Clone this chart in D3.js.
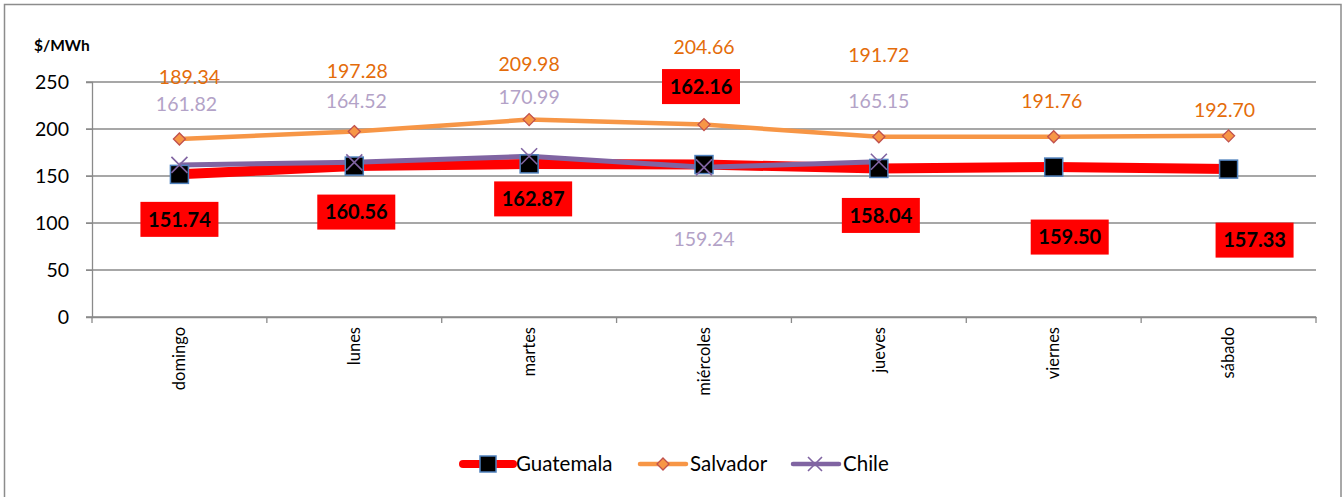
<!DOCTYPE html>
<html><head><meta charset="utf-8">
<script src="https://cdn.jsdelivr.net/npm/d3@7"></script>
<style>body{margin:0;background:#fff}svg{display:block;font-family:Lato,"Open Sans",sans-serif}</style>
</head><body><svg id="c" width="1343" height="497"></svg>
<script>
const categories = ["domingo","lunes","martes","miércoles","jueves","viernes","sábado"];
const guatemala = [151.74,160.56,162.87,162.16,158.04,159.50,157.33];
const salvador = [189.34,197.28,209.98,204.66,191.72,191.76,192.70];
const chile = [161.82,164.52,170.99,159.24,165.15,null,null];
const yTicks = [0,50,100,150,200,250];
const seriesNames = ["Guatemala","Salvador","Chile"];

// label placement (layout, px offsets from the point)
const gLab = [[0,45],[2,46],[4,35],[-3,-78],[2,47],[16,70],[26,71]];
const sLab = [[10,-62],[3,-61],[0,-56],[0,-78],[0,-82],[-2,-36],[-4,-26]];
const cLab = [[7,-61],[2,-61],[0,-59],[0,72],[0,-61],[0,0],[0,0]];

const svg = d3.select("#c");
svg.append("rect").attr("x",4.5).attr("y",4.5).attr("width",1336.5).attr("height",500)
  .attr("fill","none").attr("stroke","#8c8c8c").attr("stroke-width",1.5);

const L=92,R=1316,T=82,B=317;
const x = d3.scaleBand().domain(categories).range([L,R]);
const y = d3.scaleLinear().domain([0,250]).range([B,T]);
const cx = c => x(c)+x.bandwidth()/2;

// gridlines
svg.append("g").selectAll("line").data(yTicks).join("line")
  .attr("x1",L-6).attr("x2",R).attr("y1",d=>y(d)).attr("y2",d=>y(d))
  .attr("stroke","#8a8a8a").attr("stroke-width",1.3);

// y axis
const ya = svg.append("g").attr("transform",`translate(${L},0)`)
  .call(d3.axisLeft(y).tickValues(yTicks).tickSize(6).tickPadding(17));
ya.select(".domain").attr("stroke","#8a8a8a").attr("stroke-width",1.3);
ya.selectAll(".tick line").attr("stroke","#8a8a8a");
ya.selectAll("text").attr("font-size",19.5).attr("fill","#000").attr("font-family","Lato,sans-serif");

// x axis
const xa = svg.append("g").attr("transform",`translate(0,${B})`)
  .call(d3.axisBottom(x).tickSize(0).tickPadding(0));
xa.select(".domain").attr("stroke","#8a8a8a").attr("stroke-width",1.3);
xa.selectAll(".tick text").attr("font-size",16.5).attr("fill","#000")
  .attr("font-family","Lato,sans-serif")
  .attr("transform","translate(0,10) rotate(-90)")
  .attr("text-anchor","end").attr("dy","0.35em").attr("y",0).attr("x",0);
svg.append("g").selectAll("line").data(categories.concat([null])).join("line")
  .attr("x1",(d,i)=> i<categories.length? x(d): R).attr("x2",(d,i)=> i<categories.length? x(d): R)
  .attr("y1",B).attr("y2",B+6).attr("stroke","#8a8a8a").attr("stroke-width",1.3);

svg.append("text").attr("x",34).attr("y",51).attr("font-size",15.5).attr("font-weight","bold").text("$/MWh");

const line = d3.line().defined(d=>d.v!=null).x(d=>cx(d.c)).y(d=>y(d.v));
const mk = arr => categories.map((c,i)=>({c,v:arr[i],i}));

svg.append("path").datum(mk(guatemala)).attr("d",line).attr("fill","none")
  .attr("stroke","#ff0000").attr("stroke-width",10).attr("stroke-linejoin","round");
svg.append("path").datum(mk(salvador)).attr("d",line).attr("fill","none")
  .attr("stroke","#f79646").attr("stroke-width",4.5);
svg.append("path").datum(mk(chile)).attr("d",line).attr("fill","none")
  .attr("stroke","#8064a2").attr("stroke-width",5);

svg.append("g").selectAll("rect").data(mk(guatemala)).join("rect")
  .attr("x",d=>cx(d.c)-9).attr("y",d=>y(d.v)-9).attr("width",18).attr("height",18)
  .attr("fill","#000").attr("stroke","#4f81bd").attr("stroke-width",1.5);
svg.append("g").selectAll("path").data(mk(salvador)).join("path")
  .attr("transform",d=>`translate(${cx(d.c)},${y(d.v)})`)
  .attr("d","M0,-6L6,0L0,6L-6,0Z").attr("fill","#f79646").attr("stroke","#c0504d").attr("stroke-width",1.3);
svg.append("g").selectAll("path").data(mk(chile).filter(d=>d.v!=null)).join("path")
  .attr("transform",d=>`translate(${cx(d.c)},${y(d.v)})`)
  .attr("d","M-8,-8L8,8M8,-8L-8,8").attr("stroke","#8064a2").attr("stroke-width",1.6).attr("fill","none");

const fmt = d3.format(".2f");
const gl = svg.append("g").selectAll("g").data(mk(guatemala)).join("g")
  .attr("transform",d=>`translate(${cx(d.c)+gLab[d.i][0]},${y(d.v)+gLab[d.i][1]})`);
gl.append("rect").attr("x",-39).attr("y",-17.5).attr("width",78).attr("height",35).attr("fill","#ff0000");
gl.append("text").attr("text-anchor","middle").attr("dy","0.36em").attr("font-size",20)
  .attr("font-weight","bold").attr("fill","#000").text(d=>fmt(d.v));
svg.append("g").selectAll("text").data(mk(salvador)).join("text")
  .attr("x",d=>cx(d.c)+sLab[d.i][0]).attr("y",d=>y(d.v)+sLab[d.i][1]).attr("dy","0.36em")
  .attr("text-anchor","middle").attr("font-size",19.5).attr("fill","#e46c0a").text(d=>fmt(d.v));
svg.append("g").selectAll("text").data(mk(chile).filter(d=>d.v!=null)).join("text")
  .attr("x",d=>cx(d.c)+cLab[d.i][0]).attr("y",d=>y(d.v)+cLab[d.i][1]).attr("dy","0.36em")
  .attr("text-anchor","middle").attr("font-size",19.5).attr("fill","#b3a2c7").text(d=>fmt(d.v));

const legX = [463,640,793];
const lg = svg.append("g").selectAll("g").data(seriesNames).join("g")
  .attr("transform",(d,i)=>`translate(${legX[i]},464)`);
lg.append("line").attr("x1",0).attr("x2",(d,i)=>i===0?50:46).attr("y1",0).attr("y2",0)
  .attr("stroke",(d,i)=>["#ff0000","#f79646","#8064a2"][i])
  .attr("stroke-width",(d,i)=>[8,4.5,4.5][i]).attr("stroke-linecap","round");
lg.filter((d,i)=>i===0).append("rect").attr("x",17).attr("y",-8).attr("width",16).attr("height",16)
  .attr("fill","#000").attr("stroke","#4f81bd").attr("stroke-width",1.5);
lg.filter((d,i)=>i===1).append("path").attr("d","M23,-6L29,0L23,6L17,0Z")
  .attr("fill","#f79646").attr("stroke","#c0504d").attr("stroke-width",1.3);
lg.filter((d,i)=>i===2).append("path").attr("d","M15,-7L29,7M29,-7L15,7")
  .attr("stroke","#8064a2").attr("stroke-width",1.6);
lg.append("text").attr("x",(d,i)=>i===0?53:50).attr("dy","0.36em").attr("font-size",20.5).text(d=>d);
</script></body></html>
